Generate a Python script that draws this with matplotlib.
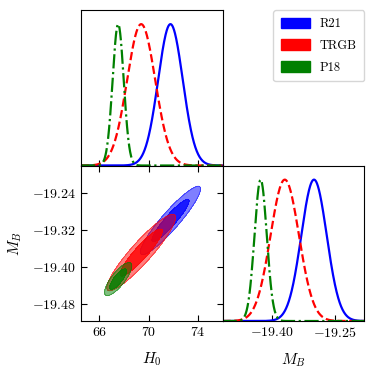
import numpy as np
import matplotlib
matplotlib.use("Agg")
import matplotlib.pyplot as plt
from matplotlib.patches import Patch

plt.rcParams["mathtext.fontset"] = "cm"
plt.rcParams["font.family"] = "serif"
plt.rcParams["font.serif"] = ["cmr10", "DejaVu Serif"]
plt.rcParams["axes.formatter.use_mathtext"] = True

# values
names = ["R21", "TRGB", "P18"]
colors = ["blue", "red", "green"]
styles = ["-", "--", "-."]
h0_mean = [71.77, 69.39, 67.52]
h0_sigma = [1.00, 1.14, 0.45]
mb_mean = [-19.300, -19.369, -19.426]
mb_sigma = [0.0300, 0.0335, 0.0145]
rho = [0.925, 0.92, 0.80]

h0_ticks = [66, 70, 74]
mb_ticks_y = [-19.24, -19.32, -19.40, -19.48]
mb_ticks_x = [-19.40, -19.25]
h0_lim = (64.5, 76.0)
mb_lim = (-19.516, -19.182)

fig = plt.figure(figsize=(3.74, 3.74), dpi=100)
L, R, T, B = 81 / 374, 364 / 374, 1 - 10 / 374, 1 - 321 / 374
w = (R - L) / 2
h = (T - B) / 2
ax_top = fig.add_axes([L, B + h, w, h])
ax_2d = fig.add_axes([L, B, w, h])
ax_rt = fig.add_axes([L + w, B, w, h])

hx = np.linspace(h0_lim[0], h0_lim[1], 600)
my = np.linspace(mb_lim[0], mb_lim[1], 600)
X, Y = np.meshgrid(hx, my)

for i in range(3):
    c = colors[i]
    # 1D marginals
    p1 = np.exp(-0.5 * ((hx - h0_mean[i]) / h0_sigma[i]) ** 2)
    ax_top.plot(hx, p1, color=c, ls=styles[i], lw=1.6)
    p2 = np.exp(-0.5 * ((my - mb_mean[i]) / mb_sigma[i]) ** 2)
    ax_rt.plot(my, p2, color=c, ls=styles[i], lw=1.6)

    # 2D contours, 68% and 95%
    u = (X - h0_mean[i]) / h0_sigma[i]
    v = (Y - mb_mean[i]) / mb_sigma[i]
    r2 = (u ** 2 - 2 * rho[i] * u * v + v ** 2) / (1 - rho[i] ** 2)
    ax_2d.contourf(X, Y, r2, levels=[0, 5.991], colors=[c], alpha=0.5, zorder=2 + i)
    ax_2d.contourf(X, Y, r2, levels=[0, 2.279], colors=[c], alpha=0.8, zorder=2 + i)
    ax_2d.contour(X, Y, r2, levels=[2.279, 5.991], colors=[c], linewidths=0.6,
                  alpha=0.6, zorder=2 + i)

ax_top.set_xlim(h0_lim)
ax_top.set_ylim(0, 1.1)
ax_top.set_xticks(h0_ticks)
ax_top.set_xticklabels([])
ax_top.set_yticks([])
ax_top.tick_params(direction="in", length=4)

ax_rt.set_xlim(mb_lim)
ax_rt.set_ylim(0, 1.1)
ax_rt.set_xticks(mb_ticks_x)
ax_rt.set_xticklabels([r"$%.2f$" % t for t in mb_ticks_x], fontsize=10)
ax_rt.set_yticks([])
ax_rt.tick_params(direction="in", length=4)
ax_rt.set_xlabel(r"$M_B$", fontsize=11, labelpad=8)

ax_2d.set_xlim(h0_lim)
ax_2d.set_ylim(mb_lim)
ax_2d.set_xticks(h0_ticks)
ax_2d.set_xticklabels([r"$%d$" % t for t in h0_ticks], fontsize=10)
ax_2d.set_yticks(mb_ticks_y)
ax_2d.set_yticklabels([r"$%.2f$" % t for t in mb_ticks_y], fontsize=10)
ax_2d.tick_params(direction="in", length=4, top=True, right=True)
ax_2d.set_xlabel(r"$H_0$", fontsize=11, labelpad=8)
ax_2d.set_ylabel(r"$M_B$", fontsize=11, labelpad=6)

handles = [Patch(facecolor=colors[i], edgecolor=colors[i], label=names[i]) for i in range(3)]
fig.legend(handles=handles, loc="upper right", bbox_to_anchor=(R, T),
           borderaxespad=0, handlelength=2.3, handleheight=0.9,
           labelspacing=0.75, borderpad=0.6,
           frameon=True, fancybox=True, prop={"family": "cmr10", "size": 9})

fig.savefig("out.png", dpi=100)
